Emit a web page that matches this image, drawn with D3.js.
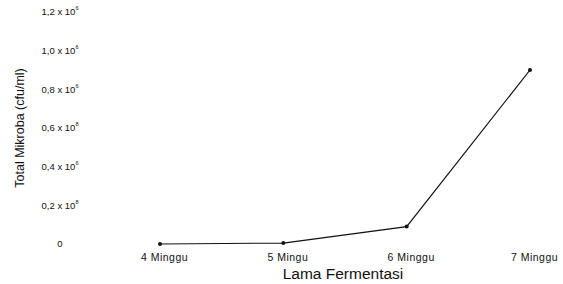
<!DOCTYPE html>
<html><head><meta charset="utf-8">
<script src="https://cdn.jsdelivr.net/npm/d3@7"></script>
<style>body{margin:0;background:#fff}svg{display:block}text{font-family:"Liberation Sans",Arial,sans-serif;fill:#111}</style>
</head><body>
<svg id="c" width="563" height="284"></svg>
<script>
const categories = ["4 Minggu", "5 Mingu", "6 Minggu", "7 Minggu"];
const values = [0, 0.005, 0.09, 0.9];
const yTicks = [0, 0.2, 0.4, 0.6, 0.8, 1.0, 1.2];
const yTickLabels = ["0", "0,2 x 10", "0,4 x 10", "0,6 x 10", "0,8 x 10", "1,0 x 10", "1,2 x 10"];
const yTickSup = ["", "8", "6", "8", "6", "6", "6"];

const svg = d3.select("#c");
const x = d3.scalePoint().domain(categories).range([160, 530]);
const y = d3.scaleLinear().domain([0, 1.2]).range([244, 12]);

// y tick labels (no axis line)
const yl = svg.append("g");
yTicks.forEach((t, i) => {
  const tx = yl.append("text").attr("x", 60).attr("y", y(t)).attr("dy", "0.35em")
    .attr("text-anchor", "middle").attr("font-size", 9.5);
  tx.append("tspan").text(yTickLabels[i]);
  if (yTickSup[i]) tx.append("tspan").attr("font-size", 5.5).attr("dy", "-0.9em").text(yTickSup[i]);
});

// x axis labels via d3 axis without lines
const xAxis = d3.axisBottom(x).tickSize(0).tickPadding(0);
const gx = svg.append("g").attr("transform", "translate(4,254)").call(xAxis);
gx.select(".domain").remove();
gx.selectAll("text").attr("font-size", 10.5).attr("fill", "#111").attr("letter-spacing", 0.5)
  .style("font-family", '"Liberation Sans",Arial,sans-serif');

// line
svg.append("path").datum(values)
  .attr("fill", "none").attr("stroke", "#111").attr("stroke-width", 1.2)
  .attr("d", d3.line().x((d, i) => x(categories[i])).y(d => y(d)));
svg.append("g").selectAll("circle").data(values).join("circle")
  .attr("cx", (d, i) => x(categories[i])).attr("cy", d => y(d)).attr("r", 2)
  .attr("fill", "#111");

// axis titles
svg.append("text").attr("x", 343).attr("y", 279).attr("text-anchor", "middle")
  .attr("font-size", 15.5).text("Lama Fermentasi");
svg.append("text").attr("transform", "translate(24,128) rotate(-90)").attr("text-anchor", "middle")
  .attr("font-size", 12.5).text("Total Mikroba (cfu/ml)");
</script>
</body></html>
